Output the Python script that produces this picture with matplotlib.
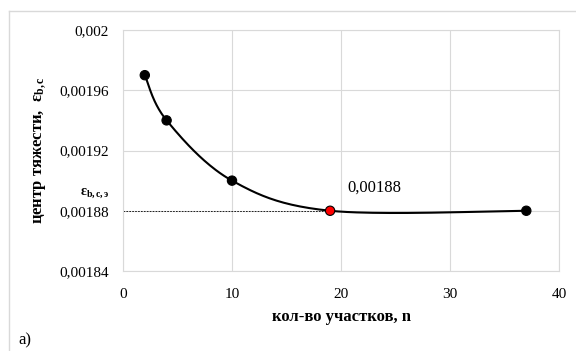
import numpy as np
import matplotlib.pyplot as plt
from matplotlib.ticker import FuncFormatter
from matplotlib.lines import Line2D

plt.rcParams['font.family'] = 'Liberation Serif'
plt.rcParams['mathtext.fontset'] = 'custom'
plt.rcParams['mathtext.rm'] = 'Liberation Serif'
plt.rcParams['mathtext.it'] = 'Liberation Serif'
plt.rcParams['mathtext.bf'] = 'Liberation Serif:bold'

# data
n_sections = [2, 4, 10, 19, 37]
eps_values = [0.00197, 0.00194, 0.00190, 0.00188, 0.00188]
marker_colors = ['black', 'black', 'black', 'red', 'black']
ref_value = 0.00188
ref_n = 19
y_ticks = [0.00184, 0.00188, 0.00192, 0.00196, 0.002]
x_ticks = [0, 10, 20, 30, 40]


def smooth(xs, ys, steps=40):
    # Catmull-Rom style smoothing like Excel's "smoothed line"
    xs = np.asarray(xs, float)
    ys = np.asarray(ys, float)
    px = np.concatenate([[xs[0]], xs, [xs[-1]]])
    py = np.concatenate([[ys[0]], ys, [ys[-1]]])
    out_x, out_y = [], []
    for i in range(1, len(px) - 2):
        p0, p1, p2, p3 = [np.array([px[j], py[j]]) for j in (i - 1, i, i + 1, i + 2)]
        c1 = p1 + (p2 - p0) / 6
        c2 = p2 - (p3 - p1) / 6
        t = np.linspace(0, 1, steps)[:, None]
        b = ((1 - t) ** 3) * p1 + 3 * ((1 - t) ** 2) * t * c1 + 3 * (1 - t) * t ** 2 * c2 + t ** 3 * p2
        out_x.extend(b[:, 0])
        out_y.extend(b[:, 1])
    return out_x, out_y


fig = plt.figure(figsize=(5.76, 3.51), dpi=100)
ax = fig.add_axes([123 / 576, 80 / 351, 436 / 576, 241 / 351])

sx, sy = smooth(n_sections, eps_values)
ax.plot(sx, sy, color='black', lw=1.5, zorder=3)
ax.plot([0, ref_n], [ref_value, ref_value], color='black', lw=0.6, ls=(0, (2, 1.5)), zorder=2)
ax.scatter(n_sections, eps_values, s=45, c=marker_colors, edgecolors='black', linewidths=0.8, zorder=4)
ax.text(20.6, 0.001893, '0,00188', fontsize=12)

ax.set_xlim(0, 40)
ax.set_ylim(0.00184, 0.002)
ax.set_xticks(x_ticks)
ax.set_yticks(y_ticks)
ax.yaxis.set_major_formatter(FuncFormatter(lambda v, p: ('%g' % v).replace('.', ',')))
ax.tick_params(length=0, labelsize=11)
ax.tick_params(axis='x', pad=12)
ax.tick_params(axis='y', pad=10)
ax.grid(True, color='#d9d9d9', lw=0.8)
ax.set_axisbelow(True)
for s in ax.spines.values():
    s.set_color('#d9d9d9')

ax.set_xlabel('кол-во участков, n', fontsize=12, fontweight='bold', labelpad=6)
ax.set_ylabel(r'центр тяжести,  $\mathbf{ε_{b,c}}$', fontsize=12, fontweight='bold', labelpad=8)
fig.text(95 / 576, 1 - 193 / 351, r'$\mathbf{ε_{b,c,э}}$', fontsize=10, ha='center', va='center')
fig.text(18 / 576, 1 - 340 / 351, 'а)', fontsize=12, va='center')

fig.add_artist(Line2D([9 / 576, 9 / 576], [0, 1 - 11 / 351], color='#d9d9d9', lw=1))
fig.add_artist(Line2D([9 / 576, 1], [1 - 11 / 351, 1 - 11 / 351], color='#d9d9d9', lw=1))

fig.savefig('out.png', dpi=100)
